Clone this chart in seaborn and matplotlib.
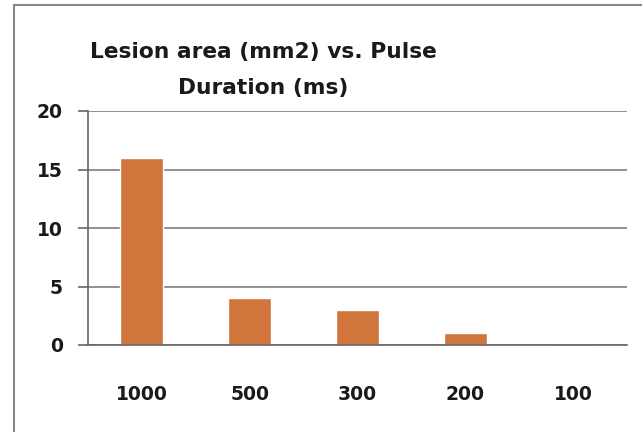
import seaborn as sns
import matplotlib.pyplot as plt
import pandas as pd
from matplotlib.patches import Rectangle

# data
durations = ['1000', '500', '300', '200', '100']
lesion_area = [16, 4, 3, 1, 0]
y_ticks = [0, 5, 10, 15, 20]

df = pd.DataFrame({'duration': durations, 'area': lesion_area})

sns.set_style('white')
plt.rcParams['font.family'] = ['DejaVu Sans']

fig = plt.figure(figsize=(6.42, 4.32), dpi=100)
ax = fig.add_axes([88 / 642, 1 - 345 / 432, (627 - 88) / 642, (345 - 111) / 432])

sns.barplot(data=df, x='duration', y='area', order=durations, color='#D0753C',
            saturation=1, width=0.4, ax=ax)

ax.set_xlim(-0.5, len(durations) - 0.5)
ax.set_ylim(0, 20)
ax.set_yticks(y_ticks)
ax.set_yticklabels([str(t) for t in y_ticks], fontsize=13.5, fontweight='bold', color='#1a1a1a')
ax.set_xticks(range(len(durations)))
ax.set_xticklabels(durations, fontsize=13.5, fontweight='bold', color='#1a1a1a')
ax.set_xticks([i - 0.5 for i in range(len(durations) + 1)], minor=True)
ax.tick_params(axis='x', which='major', length=0, pad=29)
ax.tick_params(axis='x', which='minor', length=7, width=1.2, color='#6b6363', direction='out')
ax.tick_params(axis='y', length=7, width=1.2, color='#6b6363', direction='out', pad=11, left=True)
ax.set_xlabel('')
ax.set_ylabel('')

ax.yaxis.grid(True, color='#857b7b', linewidth=1.2)
ax.set_axisbelow(True)
for side in ['top', 'right']:
    ax.spines[side].set_visible(False)
for side in ['left', 'bottom']:
    ax.spines[side].set_color('#6b6363')
    ax.spines[side].set_linewidth(1.2)

fig.text(263 / 642, 1 - 52 / 432, 'Lesion area (mm2) vs. Pulse', ha='center', va='center',
         fontsize=15.7, fontweight='bold', color='#1a1a1a')
fig.text(263 / 642, 1 - 88 / 432, 'Duration (ms)', ha='center', va='center',
         fontsize=15.7, fontweight='bold', color='#1a1a1a')

# chart border
fig.patches.append(Rectangle((14 / 642, -0.1), 1.2, 1 - 5 / 432 + 0.1, transform=fig.transFigure,
                             fill=False, edgecolor='#8c8585', linewidth=1.5))

fig.savefig('out.png', dpi=100)
